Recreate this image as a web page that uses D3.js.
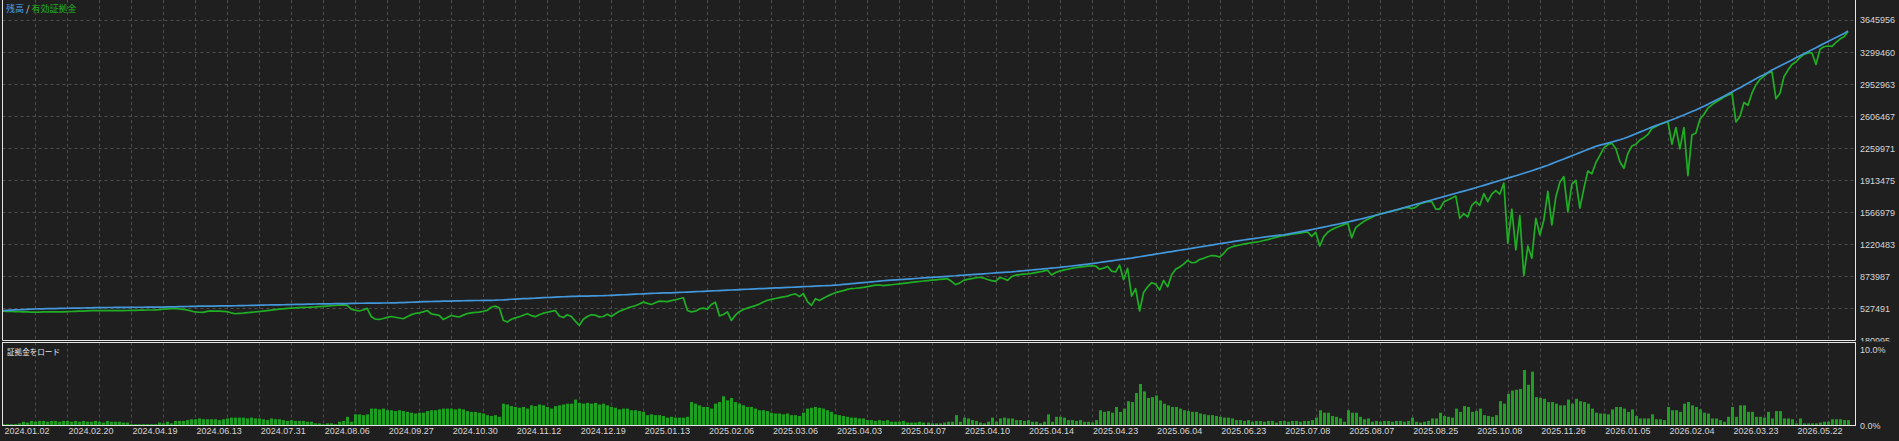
<!DOCTYPE html>
<html><head><meta charset="utf-8">
<script src="https://cdnjs.cloudflare.com/ajax/libs/d3/7.8.5/d3.min.js"></script>
<style>
html,body{margin:0;padding:0;background:#1f1f1f;overflow:hidden}
svg{display:block}
</style></head><body>
<svg id="c" width="1899" height="441"></svg>
<script>
// ---- data ----
const dateLabels = ["2024.01.02","2024.02.20","2024.04.19","2024.06.13","2024.07.31","2024.08.06","2024.09.27","2024.10.30","2024.11.12","2024.12.19","2025.01.13","2025.02.06","2025.03.06","2025.04.03","2025.04.07","2025.04.10","2025.04.14","2025.04.23","2025.06.04","2025.06.23","2025.07.08","2025.08.07","2025.08.25","2025.10.08","2025.11.26","2026.01.05","2026.02.04","2026.03.23","2026.05.22"];
const yTickValues = [180995,527491,873987,1220483,1566979,1913475,2259971,2606467,2952963,3299460,3645956];
const marginTickValues = [0,10];
const seriesNames = ["残高","有効証拠金"];
const subTitle = "証拠金をロード";

// balance, in thousands
const balanceK = [
505,507,509,511,513,515,517,519,521,522,
523,524,525,526,527,528,529,530,530,531,
532,533,534,535,535,536,537,537,538,538,
539,539,539,540,540,540,541,541,541,541,
542,543,544,545,546,547,548,549,550,551,
552,552,553,553,554,554,555,555,556,557,
558,559,560,561,562,563,564,565,565,566,
567,568,569,570,571,572,573,574,575,576,
576,577,577,578,578,579,580,581,582,583,
583,584,584,585,585,586,586,587,588,589,
590,592,594,596,598,600,601,602,603,604,
605,606,607,608,609,610,611,612,613,613,
614,614,615,616,618,620,623,626,628,630,
632,634,636,638,641,643,645,647,649,651,
653,655,657,658,659,660,661,662,663,664,
665,667,669,671,673,675,677,679,681,683,
685,687,689,691,693,694,695,696,698,700,
702,704,706,708,710,712,714,716,718,720,
722,724,726,728,730,732,734,736,738,740,
742,744,746,748,750,752,754,756,758,760,
762,764,766,768,770,772,774,776,779,782,
786,790,794,798,802,806,810,814,818,822,
826,829,832,835,838,841,844,847,850,853,
856,859,862,865,868,871,874,877,880,884,
886,889,892,895,898,901,904,907,910,913,
916,919,922,926,930,934,938,942,946,950,
954,958,962,966,970,975,980,985,990,995,
1000,1005,1011,1017,1023,1029,1035,1041,1047,1053,
1059,1065,1071,1078,1085,1092,1099,1106,1113,1120,
1127,1134,1141,1148,1155,1162,1169,1176,1183,1190,
1197,1204,1211,1218,1225,1232,1239,1246,1253,1260,
1266,1272,1278,1284,1290,1296,1302,1308,1314,1318,
1322,1330,1338,1346,1354,1362,1370,1378,1387,1396,
1405,1414,1423,1432,1441,1450,1460,1470,1480,1490,
1500,1511,1522,1533,1544,1555,1566,1578,1590,1602,
1614,1626,1638,1650,1662,1674,1686,1698,1710,1722,
1734,1746,1758,1770,1782,1794,1806,1818,1830,1843,
1856,1869,1882,1895,1908,1921,1934,1947,1960,1973,
1986,2000,2014,2028,2043,2058,2073,2090,2107,2124,
2141,2158,2175,2192,2209,2226,2243,2260,2277,2290,
2300,2312,2324,2336,2348,2362,2378,2395,2412,2430,
2448,2466,2484,2500,2516,2532,2548,2564,2580,2598,
2616,2634,2652,2670,2690,2710,2730,2752,2774,2796,
2818,2841,2864,2887,2910,2934,2958,2982,3006,3030,
3050,3075,3100,3122,3144,3166,3188,3210,3232,3254,
3276,3298,3320,3342,3364,3386,3408,3430,3452,3474,
3496,3522];

// equity, in thousands
const equityK = [
497,496,494,493,492,490,489,488,487,488,
489,489,490,490,491,491,493,494,496,498,
499,501,503,504,505,504,504,503,503,503,
504,505,506,507,508,509,510,510,511,513,
519,522,525,527,522,517,512,500,489,486,
485,496,500,499,498,496,492,480,470,474,
477,481,485,489,494,499,504,509,514,519,
523,527,531,534,536,538,540,542,544,547,
550,553,556,559,562,565,560,520,508,499,
510,528,440,412,408,418,430,440,432,424,
416,438,460,473,480,490,505,468,460,452,
408,430,451,441,435,455,472,479,484,488,
497,507,540,552,534,400,380,410,425,437,
453,470,450,438,458,476,486,495,505,445,
430,458,440,390,345,410,440,458,455,435,
440,465,440,470,497,512,530,545,556,575,
595,582,570,588,606,603,600,611,621,632,
643,505,490,498,522,530,520,570,595,447,
462,490,397,455,492,515,530,544,558,574,
596,615,625,634,643,651,660,675,684,655,
688,600,560,632,612,636,660,680,697,708,
720,733,742,745,749,755,763,771,779,780,
773,778,783,788,793,798,803,808,813,818,
823,828,832,836,840,844,848,820,785,800,
830,840,848,856,864,855,840,828,819,860,
850,830,870,886,892,897,901,906,914,922,
930,940,888,915,930,940,950,960,966,973,
978,983,988,985,950,962,980,930,920,995,
837,960,660,740,500,700,760,805,790,725,
830,760,890,950,975,1005,1046,1020,1025,1055,
1068,1085,1098,1095,1082,1120,1172,1190,1202,1212,
1222,1230,1236,1242,1250,1260,1270,1282,1294,1305,
1314,1320,1328,1335,1340,1348,1352,1305,1350,1200,
1300,1350,1378,1398,1415,1432,1448,1290,1400,1435,
1465,1490,1510,1532,1545,1556,1568,1578,1588,1598,
1612,1618,1605,1620,1655,1668,1682,1680,1600,1600,
1676,1698,1718,1740,1500,1550,1514,1640,1680,1640,
1766,1680,1760,1800,1760,1880,1230,1600,1160,1530,
880,1200,1070,1500,1320,1480,1790,1430,1730,1890,
1950,1570,1870,1910,1610,1820,2010,1980,2100,2180,
2260,2295,2310,2250,2110,2040,2200,2280,2300,2345,
2370,2405,2470,2490,2515,2530,2545,2300,2480,2250,
2480,1960,2400,2420,2570,2620,2690,2725,2755,2780,
2810,2828,2850,2540,2600,2750,2720,2850,2940,3000,
3035,3070,3080,2790,2850,3028,3100,3160,3190,3235,
3270,3285,3285,3160,3325,3352,3360,3355,3400,3435,
3460,3515];

// margin load, percent
const marginLoad = [
0.1,0.1,0.1,0.1,0.2,0.4,0.3,0.5,0.4,0.5,
0.5,0.4,0.5,0.5,0.4,0.5,0.5,0.4,0.5,0.4,
0.5,0.4,0.4,0.5,0.4,0.3,0.5,0.4,0.4,0.4,
0.3,0.3,0.1,0.1,0.1,0.1,0.1,0.1,0.1,0.3,
0.2,0.4,0.2,0.5,0.5,0.5,0.6,0.7,0.7,0.8,
0.7,0.7,0.7,0.7,0.6,0.7,0.8,0.9,0.9,0.9,
0.9,0.8,0.9,0.8,0.8,0.7,0.6,0.8,0.7,0.7,
0.6,0.5,0.6,0.5,0.5,0.5,0.4,0.4,0.2,0.2,
0.1,0.2,0.2,0.1,0.4,0.5,1.0,0.4,1.3,1.3,
1.2,1.3,2.0,2.0,1.9,2.0,1.8,1.8,1.7,1.8,
1.7,1.6,1.5,1.4,1.5,1.5,1.7,1.8,1.8,1.9,
2.0,2.0,2.0,1.9,2.0,1.9,1.7,1.6,1.6,1.5,
1.4,1.2,1.1,1.2,1.0,2.6,2.5,2.3,2.2,2.1,
2.2,2.0,2.4,2.3,2.5,2.4,2.2,2.0,2.3,2.4,
2.5,2.6,2.6,3.1,2.7,2.6,2.7,2.6,2.7,2.5,
2.6,2.4,2.2,2.1,1.9,2.0,2.0,1.8,1.8,1.7,
1.6,1.2,1.3,1.2,1.2,1.1,0.9,1.0,0.9,0.9,
0.9,1.0,2.8,2.6,2.4,2.2,2.2,2.0,2.6,2.8,
3.5,3.0,3.3,2.8,2.6,2.4,2.2,2.2,2.0,1.8,
1.8,1.7,1.5,1.4,1.4,1.3,1.4,1.2,1.2,1.1,
1.5,2.0,2.1,2.2,2.1,2.0,1.8,1.6,1.3,1.2,
1.1,1.0,0.9,0.9,0.8,0.8,0.6,0.6,0.5,0.6,
0.5,0.6,0.4,0.4,0.4,0.5,0.3,0.3,0.3,0.4,
0.3,0.3,0.2,0.2,0.2,0.3,0.4,0.4,1.2,0.4,
0.9,0.8,0.6,0.5,0.3,0.2,0.4,0.9,0.4,0.8,
0.9,0.8,0.8,0.6,0.6,0.5,0.6,0.4,0.4,0.2,
0.4,1.3,0.4,1.0,1.0,0.9,0.6,0.6,0.5,0.6,
0.4,0.4,0.3,0.6,1.8,1.6,1.7,1.5,2.2,1.6,
2.0,2.9,2.8,3.9,5.0,4.1,3.3,3.4,3.6,3.0,
2.6,2.4,2.2,2.2,2.0,1.8,1.7,1.6,1.6,1.4,
1.3,1.2,1.2,1.1,1.0,0.9,0.9,0.8,0.6,0.6,
0.5,0.6,0.4,0.5,0.5,0.4,0.5,0.5,0.3,0.5,
0.5,0.4,0.5,0.5,0.4,0.5,0.5,0.6,0.9,1.8,
1.5,1.5,1.1,1.0,0.8,0.4,1.8,1.5,1.5,1.0,
0.7,0.8,0.4,0.5,0.4,0.5,0.5,0.4,0.5,0.5,
0.4,0.5,0.9,0.4,0.3,0.4,0.5,0.8,0.8,1.5,
1.1,1.0,0.9,2.0,1.6,2.3,2.2,1.6,1.7,2.0,
1.2,1.1,1.0,1.2,2.9,2.6,3.8,4.2,4.3,4.4,
6.7,4.9,6.5,3.4,3.3,3.2,2.8,2.8,2.6,2.4,
2.4,3.1,2.6,3.2,2.9,2.8,2.6,2.0,1.5,1.4,
1.4,1.3,1.9,2.2,2.2,2.0,1.6,1.9,1.1,0.8,
0.8,0.8,1.3,0.7,0.7,0.6,2.2,1.8,1.8,1.6,
2.6,2.8,2.4,2.2,1.9,1.5,1.4,0.8,0.8,0.6,
0.4,1.0,2.2,1.0,2.4,2.4,1.6,1.6,1.0,1.0,
0.9,1.6,0.8,1.7,1.7,0.8,0.8,0.7,0.2,0.8,
0.2,0.2,0.2,0.2,0.3,0.4,0.4,0.7,0.7,0.7,
0.6,0.6];

// ---- drawing ----
const W = 1899, H = 441;
const panelL = 2.5, panelR = 1855.5, mainB = 340.5, subT = 342.5, subB = 425.5;
const n = balanceK.length;
const labelEvery = 16, gridEvery = 8;

const svg = d3.select("#c");
svg.append("rect").attr("width", W).attr("height", H).attr("fill", "#1f1f1f");

const x = d3.scaleLinear().domain([0, n - 1]).range([3, 1848]);
const y = d3.scaleLinear().domain([yTickValues[0], yTickValues[yTickValues.length - 1]]).range([340.5, 19.5]);
const ym = d3.scaleLinear().domain([0, 10]).range([425, 343]);

const defs = svg.append("defs");
defs.append("clipPath").attr("id", "mainClip").append("rect")
  .attr("x", panelL).attr("y", 0).attr("width", panelR - panelL).attr("height", mainB);
// label clip in the y-axis group's own coordinates (group is shifted in x only)
defs.append("clipPath").attr("id", "labClip").append("rect")
  .attr("x", -4).attr("y", 0).attr("width", 50).attr("height", 341.5);

const gridColor = "#4e4e4e";
const gridIdx = d3.range(gridEvery, n, gridEvery);

// vertical gridlines (both panels)
const vg = svg.append("g").attr("stroke", gridColor).attr("stroke-width", 1).attr("stroke-dasharray", "3,3");
vg.selectAll("line.m").data(gridIdx).join("line").attr("class", "m")
  .attr("x1", d => Math.round(x(d)) + 0.5).attr("x2", d => Math.round(x(d)) + 0.5)
  .attr("y1", 0).attr("y2", mainB);
vg.selectAll("line.s").data(gridIdx).join("line").attr("class", "s")
  .attr("x1", d => Math.round(x(d)) + 0.5).attr("x2", d => Math.round(x(d)) + 0.5)
  .attr("y1", subT).attr("y2", subB);
// horizontal gridlines (main)
vg.selectAll("line.h").data(yTickValues.slice(1)).join("line").attr("class", "h")
  .attr("x1", panelL).attr("x2", panelR)
  .attr("y1", d => Math.round(y(d)) + 0.5).attr("y2", d => Math.round(y(d)) + 0.5);

// lines
const plot = svg.append("g").attr("clip-path", "url(#mainClip)");
const lineEq = d3.line().x((d, i) => x(i)).y(d => y(d * 1000));
plot.append("path").datum(equityK).attr("d", lineEq)
  .attr("fill", "none").attr("stroke", "#1fae24").attr("stroke-width", 1.7).attr("stroke-linejoin", "round");
plot.append("path").datum(balanceK).attr("d", lineEq)
  .attr("fill", "none").attr("stroke", "#4398dc").attr("stroke-width", 1.7).attr("stroke-linejoin", "round");

// margin bars
svg.append("g").selectAll("rect").data(marginLoad).join("rect")
  .attr("x", (d, i) => Math.round(x(i)) - 1)
  .attr("width", 3)
  .attr("y", d => ym(d))
  .attr("height", d => 425 - ym(d))
  .attr("fill", "#1f9f22");

// borders
const bc = "#e6e6e6";
const b = svg.append("g").attr("stroke", bc).attr("stroke-width", 1).attr("fill", "none");
b.append("path").attr("d", `M${panelL},0V${mainB}H${panelR}V0`);
b.append("rect").attr("x", panelL).attr("y", subT).attr("width", panelR - panelL).attr("height", subB - subT);

const fontNum = "9px 'Liberation Sans', Arial, sans-serif";
const txtColor = "#d6d6d6";

// y axis (main)
const yAxis = svg.append("g").attr("transform", "translate(1859,0)").attr("clip-path", "url(#labClip)")
  .call(d3.axisRight(y).tickValues(yTickValues).tickSize(0).tickPadding(1).tickFormat(d3.format("d")));
yAxis.select(".domain").remove();
yAxis.selectAll("text").style("font", fontNum).attr("fill", txtColor).attr("dy", "0.38em");

// y axis (margin)
const mAxis = svg.append("g").attr("transform", "translate(1859,0)")
  .call(d3.axisRight(ym).tickValues(marginTickValues).tickSize(0).tickPadding(1).tickFormat(d => d.toFixed(1) + "%"));
mAxis.select(".domain").remove();
mAxis.selectAll("text").style("font", fontNum).attr("fill", txtColor)
  .attr("dy", d => d === 10 ? "1.05em" : "0.38em");

// x axis
const labelIdx = dateLabels.map((d, k) => k * labelEvery);
const xAxis = svg.append("g").attr("transform", "translate(0,426)")
  .call(d3.axisBottom(x).tickValues(labelIdx).tickSize(0).tickPadding(2).tickFormat((d, k) => dateLabels[k]));
xAxis.select(".domain").remove();
xAxis.selectAll("text").style("font", fontNum).attr("fill", txtColor).attr("text-anchor", "start").attr("x", 1);

// titles
const t = svg.append("text").attr("x", 6).attr("y", 11.5)
  .style("font", "9px 'Noto Sans CJK JP', sans-serif");
t.append("tspan").attr("fill", "#4a9fe6").text(seriesNames[0]);
t.append("tspan").attr("fill", "#dddddd").text(" / ");
t.append("tspan").attr("fill", "#22b022").text(seriesNames[1]);

svg.append("text").attr("x", 7).attr("y", 354.5)
  .style("font", "8px 'Noto Sans CJK JP', sans-serif").attr("fill", "#e6e6e6")
  .attr("textLength", 53).attr("lengthAdjust", "spacingAndGlyphs")
  .text(subTitle);
</script>
</body></html>
